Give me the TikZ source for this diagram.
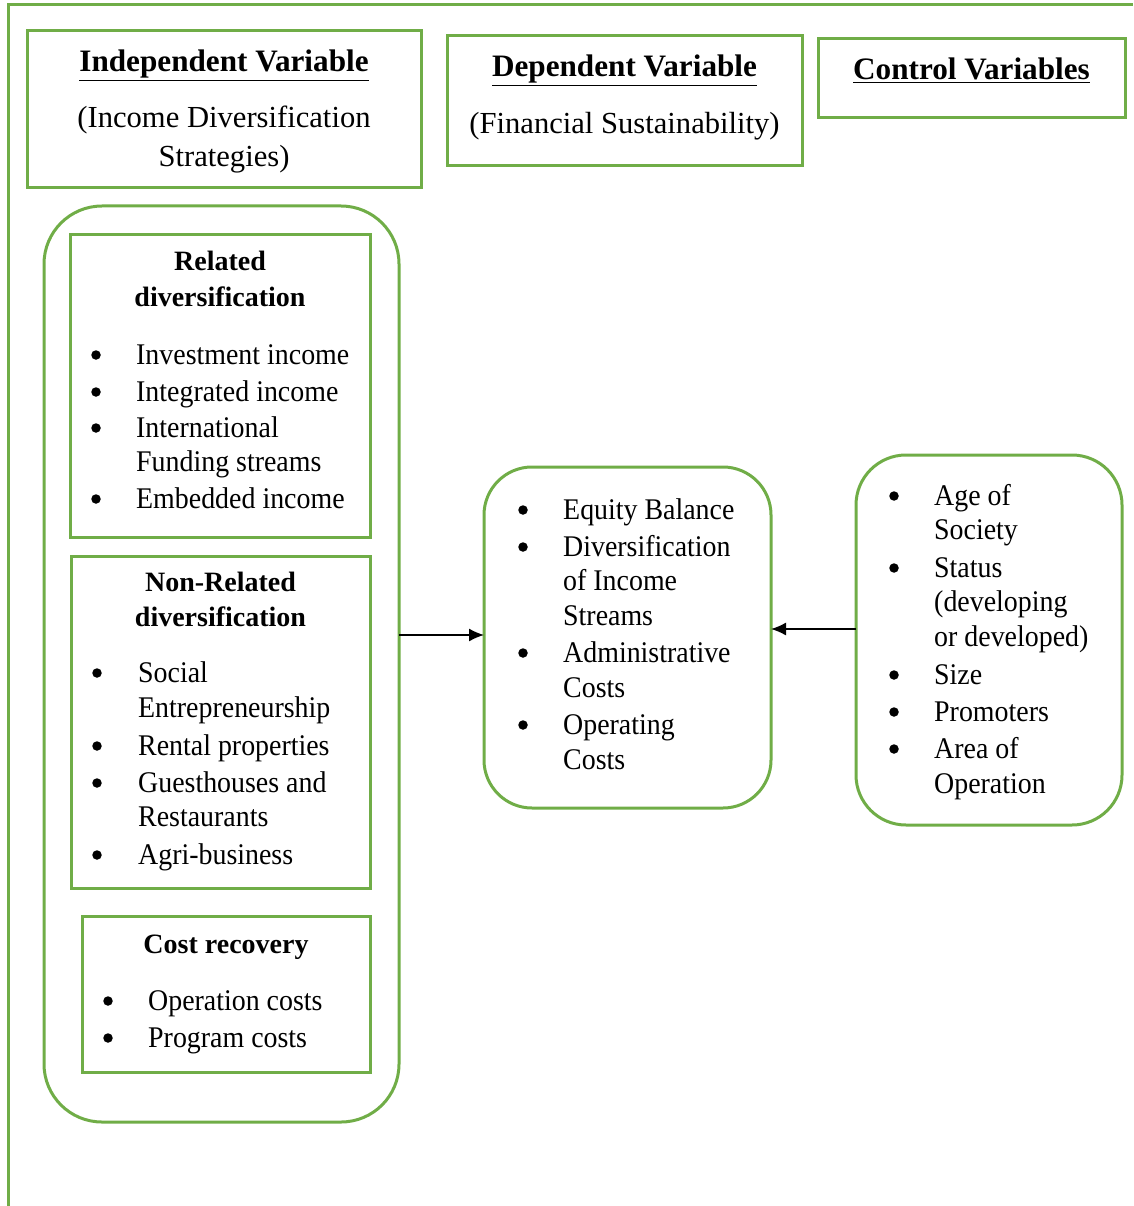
\documentclass[tikz,border=0pt]{standalone}
\usepackage{fontspec}
\setmainfont{Liberation Serif}
\newfontfamily\bodyfont{Liberation Serif}[FakeStretch=0.93]
\usetikzlibrary{arrows.meta}
\definecolor{grn}{HTML}{70AD47}
\tikzset{
  frame/.style={draw=grn, line width=3pt},
  box/.style={draw=grn, line width=3pt, rectangle, anchor=north west, outer sep=0pt, inner sep=0pt},
  body/.style={anchor=base west, inner sep=0pt, font=\bodyfont\fontsize{30}{36}\selectfont},
  bul/.style={circle, fill=black, inner sep=0pt, minimum size=9.5pt, yshift=9pt},
  ttl/.style={anchor=base, inner sep=0pt, font=\fontsize{28}{32}\selectfont\bfseries},
  hd/.style={anchor=base, inner sep=0pt, font=\fontsize{30.6}{34}\selectfont},
  hdt/.style={anchor=base, inner sep=0pt, font=\fontsize{31.2}{35}\selectfont\bfseries},
  arr/.style={-{Latex[length=15pt,width=13pt]}, line width=1.4pt, black}
}
\begin{document}
\begin{tikzpicture}[x=1pt,y=-1pt]
\useasboundingbox (0,0) rectangle (1133,1206);
% outer frame
\coordinate (fb) at (8,1206);
\coordinate (fc) at (8,5);
\coordinate (fr) at (1133,5);
\draw[frame] (fb) -- (fc) -- (fr);

% header boxes
\node[box, minimum width=394pt, minimum height=157pt] (iv) at (27,31) {};
\node[box, minimum width=355pt, minimum height=130pt] (dv) at (447,36) {};
\node[box, minimum width=307pt, minimum height=79pt] (cv) at (818,39) {};
\node[hdt] (ivt) at (224,72) {\underline{Independent Variable}};
\node[hd] (ivs1) at (224,128) {(Income Diversification};
\node[hd] (ivs2) at (224,167) {Strategies)};
\node[hdt] (dvt) at (624.5,77) {\underline{Dependent Variable}};
\node[hd] (dvs) at (624.5,134) {(Financial Sustainability)};
\node[hdt] (cvt) at (971.5,80) {\underline{Control Variables}};

% big left rounded box
\node[box, rounded corners=58pt, minimum width=355pt, minimum height=916pt] (big) at (44,206) {};
% related box
\node[box, minimum width=300pt, minimum height=302pt] (rel) at (70,235) {};
\node[ttl] (relt1) at (220,270) {Related};
\node[ttl] (relt2) at (220,306) {diversification};
\foreach \y/\t [count=\i] in {364/{Investment income},401/{Integrated income},437/{International},471/{Funding streams},508/{Embedded income}}
  \node[body] (rel\i) at (136,\y) {\t};
\foreach \y [count=\i] in {364,401,437,508}
  \node[bul] (relb\i) at (96,\y) {};

% non-related box
\node[box, minimum width=299pt, minimum height=332pt] (non) at (71,556) {};
\node[ttl] (nont1) at (220.5,591) {Non-Related};
\node[ttl] (nont2) at (220.5,626) {diversification};
\foreach \y/\t [count=\i] in {682/{Social},717/{Entrepreneurship},755/{Rental properties},792/{Guesthouses and},826/{Restaurants},864/{Agri-business}}
  \node[body] (non\i) at (138,\y) {\t};
\foreach \y [count=\i] in {682,755,792,864}
  \node[bul] (nonb\i) at (97,\y) {};

% cost recovery box
\node[box, minimum width=288pt, minimum height=156pt] (cost) at (82,916) {};
\node[ttl] (costt) at (226,953) {Cost recovery};
\foreach \y/\t [count=\i] in {1010/{Operation costs},1047/{Program costs}}
  \node[body] (cost\i) at (148,\y) {\t};
\foreach \y [count=\i] in {1010,1047}
  \node[bul] (costb\i) at (108,\y) {};

% middle box
\node[box, rounded corners=48pt, minimum width=287pt, minimum height=341pt] (mid) at (484,467) {};
\foreach \y/\t [count=\i] in {519/{Equity Balance},556/{Diversification},590/{of Income},625/{Streams},662/{Administrative},697/{Costs},734/{Operating},769/{Costs}}
  \node[body] (mid\i) at (563,\y) {\t};
\foreach \y [count=\i] in {519,556,662,734}
  \node[bul] (midb\i) at (523,\y) {};

% right box
\node[box, rounded corners=50pt, minimum width=266pt, minimum height=370pt] (ctl) at (856,455) {};
\foreach \y/\t [count=\i] in {505/{Age of},539/{Society},577/{Status},611/{(developing},646/{or developed)},684/{Size},721/{Promoters},758/{Area of},793/{Operation}}
  \node[body] (ctl\i) at (934,\y) {\t};
\foreach \y [count=\i] in {505,577,684,721,758}
  \node[bul] (ctlb\i) at (894,\y) {};

% arrows
\draw[arr] (big.east |- 0,635) -- (mid.west |- 0,635);
\draw[arr] (ctl.west |- 0,629) -- (mid.east |- 0,629);
\end{tikzpicture}
\end{document}
